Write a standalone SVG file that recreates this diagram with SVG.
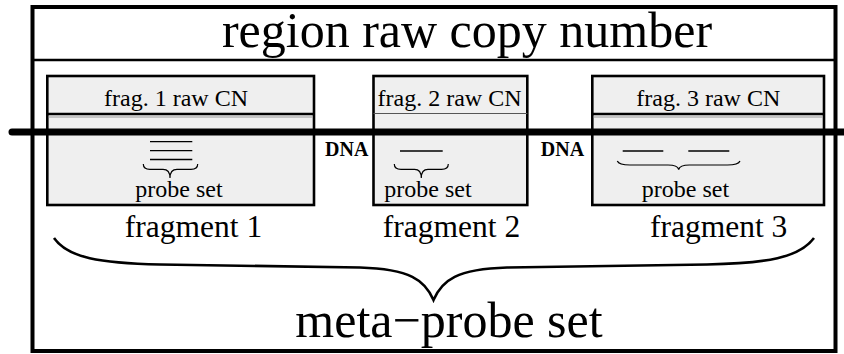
<svg xmlns="http://www.w3.org/2000/svg" width="844" height="354" viewBox="0 0 844 354">
<style>
text{font-family:"Liberation Serif","Times New Roman",serif;fill:#000;text-anchor:middle}
.hdr{font-size:24px}
.ps{font-size:24px}
.frag{font-size:31.5px}
.big{font-size:50px}
.dna{font-size:20px;font-weight:bold}
.box{fill:#efefef;stroke:#000;stroke-width:2.6}
.sep{stroke:#000;stroke-width:2.4}
.sep2{stroke:#999;stroke-width:1}
.probe{stroke:#000;stroke-width:1.3;fill:none}
.brace{stroke:#000;stroke-width:1.2;fill:none}
</style>
<g id="outer">
<rect x="32.5" y="7" width="803" height="344" fill="#fff" stroke="#000" stroke-width="4"/>
<line x1="32.5" y1="60" x2="835.5" y2="60" stroke="#000" stroke-width="2.5"/>
<text class="big" x="467" y="47">region raw copy number</text>
</g>
<g id="frag1">
<rect class="box" x="47.3" y="76" width="266.7" height="129"/>
<line class="sep" x1="47.3" y1="114" x2="314" y2="114"/>
<line class="sep2" x1="48.6" y1="117" x2="312.7" y2="117"/>
<text class="hdr" x="176" y="106">frag. 1 raw CN</text>
<line class="probe" x1="150" y1="141.7" x2="192.3" y2="141.7"/>
<line class="probe" x1="150" y1="150.7" x2="192.3" y2="150.7"/>
<line class="probe" x1="150" y1="159.5" x2="192.3" y2="159.5"/>
<path class="brace" d="M143.3,164 C143.3,168 146,169.3 150,169.3 L163,169.3 C167,169.3 170,171 170,178 C170,171 173,169.3 177,169.3 L191,169.3 C195,169.3 197.7,168 197.7,164"/>
<text class="ps" x="179" y="197">probe set</text>
<text class="frag" x="193.5" y="237">fragment 1</text>
</g>
<g id="frag2">
<rect class="box" x="373.5" y="76" width="153.8" height="129"/>
<line x1="373.5" y1="113.5" x2="527.3" y2="113.5" stroke="#555" stroke-width="1.2"/>
<text class="hdr" x="449.5" y="106">frag. 2 raw CN</text>
<line class="probe" x1="400" y1="151" x2="442.7" y2="151"/>
<path class="brace" d="M394.3,164 C394.3,168 397,169.3 401,169.3 L414.5,169.3 C418.5,169.3 421.3,171 421.3,178 C421.3,171 424,169.3 428,169.3 L441.5,169.3 C445.5,169.3 448.3,168 448.3,164"/>
<text class="ps" x="428" y="197">probe set</text>
<text class="frag" x="451.5" y="237">fragment 2</text>
</g>
<g id="frag3">
<rect class="box" x="592.3" y="76" width="231.7" height="129"/>
<line class="sep" x1="592.3" y1="114" x2="824" y2="114"/>
<line class="sep2" x1="593.6" y1="117" x2="822.7" y2="117"/>
<text class="hdr" x="708.3" y="106">frag. 3 raw CN</text>
<line class="probe" x1="622.7" y1="151" x2="663.3" y2="151"/>
<line class="probe" x1="688.3" y1="151" x2="729.3" y2="151"/>
<path class="brace" d="M617.3,161 C618.5,164 622,165 630,165 L668,165 C674,165 678,166.5 678.7,169.5 C679.4,166.5 683.4,165 689.4,165 L727.4,165 C735.4,165 738.8,164 740,161"/>
<text class="ps" x="685.5" y="197">probe set</text>
<text class="frag" x="718.7" y="237">fragment 3</text>
</g>
<g id="connectors">
<line x1="12" y1="132" x2="844" y2="132" stroke="#000" stroke-width="7" stroke-linecap="round"/>
<text class="dna" x="346.7" y="156">DNA</text>
<text class="dna" x="562.5" y="156">DNA</text>
<path d="M54,238 C68,258 100,263 160,264.5 L360,267.5 C410,269 425,280 433.5,300 C442,280 457,269 507,267.5 L707,264.5 C767,263 799,258 814,238" fill="none" stroke="#000" stroke-width="2.6"/>
</g>
<g id="meta">
<text class="big" x="449" y="337">meta−probe set</text>
</g>
</svg>
